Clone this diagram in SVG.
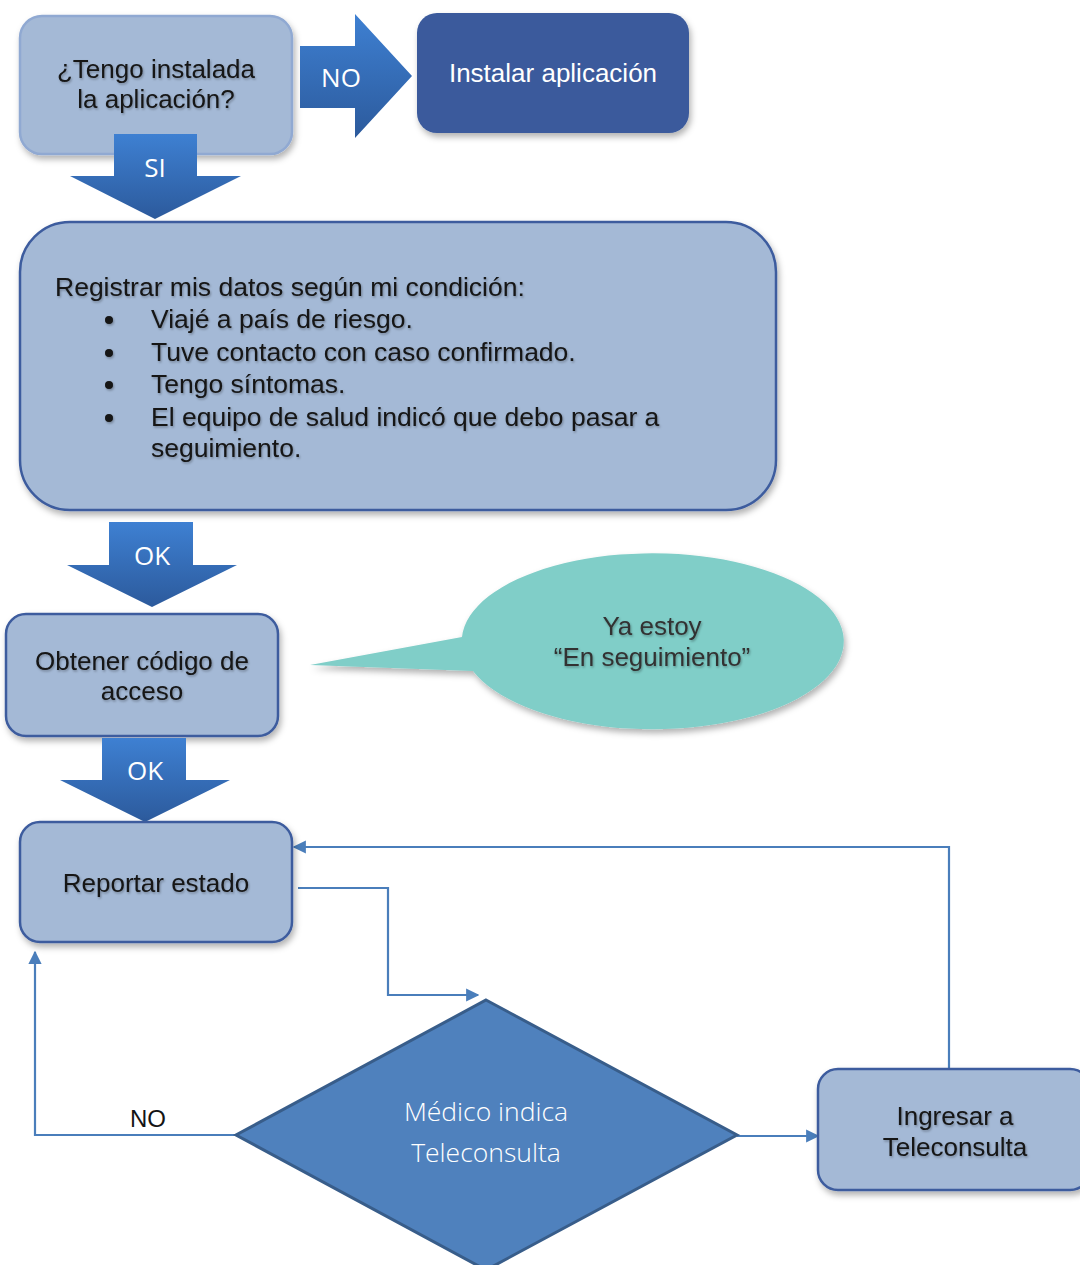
<svg xmlns="http://www.w3.org/2000/svg" width="1080" height="1265" viewBox="0 0 1080 1265">
<defs>
<style>
.box{fill:#a4b9d6;stroke:#3d5c9e;stroke-width:2.5}
.box1{fill:#a4b9d6;stroke:#90a9d2;stroke-width:2.5}
.dark{font-family:"Liberation Sans",Arial,sans-serif;font-size:26px;fill:#141414;text-anchor:middle}
.white{font-family:"Liberation Sans",Arial,sans-serif;font-size:26px;fill:#ffffff;text-anchor:middle}
.lbl{font-family:"Open Sans","Liberation Sans",sans-serif;font-size:26px;fill:#ffffff;text-anchor:middle}
.list{font-family:"Liberation Sans",Arial,sans-serif;font-size:26.5px;fill:#141414}
.conn{fill:none;stroke:#4a7ebb;stroke-width:2.2}
</style>
<linearGradient id="ga" x1="0" y1="0" x2="0" y2="1">
<stop offset="0" stop-color="#3e80d2"/>
<stop offset="1" stop-color="#2c5a9c"/>
</linearGradient>
<linearGradient id="gr" x1="0" y1="0" x2="0" y2="1">
<stop offset="0" stop-color="#3e80d2"/>
<stop offset="1" stop-color="#2c5a9c"/>
</linearGradient>
<filter id="sh" x="-10%" y="-10%" width="130%" height="130%">
<feDropShadow dx="2" dy="4" stdDeviation="3" flood-color="#000" flood-opacity="0.3"/>
</filter>
<filter id="ts" x="-5%" y="-20%" width="110%" height="150%">
<feDropShadow dx="1" dy="1.5" stdDeviation="1" flood-color="#000" flood-opacity="0.3"/>
</filter>
<marker id="ah" viewBox="0 0 10 10" refX="9" refY="5" markerWidth="6" markerHeight="6" orient="auto-start-reverse" markerUnits="strokeWidth">
<path d="M0,0 L10,5 L0,10 Z" fill="#4a7ebb"/>
</marker>
</defs>
<rect width="1080" height="1265" fill="#ffffff"/>

<g id="connectors">
<polyline class="conn" points="298,888 388,888 388,995 478,995" marker-end="url(#ah)"/>
<polyline class="conn" points="236,1135 35,1135 35,952" marker-end="url(#ah)"/>
<line class="conn" x1="737" y1="1136" x2="818" y2="1136" marker-end="url(#ah)"/>
<polyline class="conn" points="949,1069 949,847 294,847" marker-end="url(#ah)"/>
<text x="148" y="1127" style="font-family:'Liberation Sans',Arial,sans-serif;font-size:24px;fill:#141414;text-anchor:middle">NO</text>
</g>

<g id="n-tengo">
<rect class="box1" x="20" y="16" width="272" height="138" rx="22" filter="url(#sh)"/>
<text class="dark" x="156" y="78" filter="url(#ts)">¿Tengo instalada</text>
<text class="dark" x="156" y="108" filter="url(#ts)">la aplicación?</text>
</g>

<g id="a-no">
<path d="M300,46 H355 V14 L412,76 L355,138 V108 H300 Z" fill="url(#gr)"/>
<text class="lbl" x="341" y="87">NO</text>
</g>

<g id="n-instalar">
<rect x="417" y="13" width="272" height="120" rx="20" fill="#3a5a9c" filter="url(#sh)"/>
<text class="white" x="553" y="82">Instalar aplicación</text>
</g>

<g id="a-si">
<path d="M114,134 H197 V176 H241 L155,219 L70,176 H114 Z" fill="url(#ga)"/>
<text class="lbl" x="155" y="177">SI</text>
</g>

<g id="n-registrar">
<rect class="box" x="20" y="222" width="756" height="288" rx="50" filter="url(#sh)"/>
<g class="list" filter="url(#ts)">
<text x="55" y="296">Registrar mis datos según mi condición:</text>
<circle cx="109" cy="320" r="4" fill="#141414"/>
<circle cx="109" cy="353" r="4" fill="#141414"/>
<circle cx="109" cy="385" r="4" fill="#141414"/>
<circle cx="109" cy="418" r="4" fill="#141414"/>
<text x="151" y="328">Viajé a país de riesgo.</text>
<text x="151" y="361">Tuve contacto con caso confirmado.</text>
<text x="151" y="393">Tengo síntomas.</text>
<text x="151" y="426">El equipo de salud indicó que debo pasar a</text>
<text x="151" y="457">seguimiento.</text>
</g>
</g>

<g id="a-ok1">
<path d="M109,522 H193 V565 H237 L152,607 L67,565 H109 Z" fill="url(#ga)"/>
<text class="lbl" x="152" y="565">OK</text>
</g>

<g id="n-obtener">
<rect class="box" x="6" y="614" width="272" height="122" rx="20" filter="url(#sh)"/>
<text class="dark" x="142" y="670" filter="url(#ts)">Obtener código de</text>
<text class="dark" x="142" y="700" filter="url(#ts)">acceso</text>
</g>

<g id="n-callout">
<path d="M462,637 A191,88 0 1 1 473,671 L310,665 Z" fill="#80cec8" filter="url(#sh)"/>
<text x="652" y="635" style="font-family:'Liberation Sans',Arial,sans-serif;font-size:26px;fill:#333333;text-anchor:middle" filter="url(#ts)">Ya estoy</text>
<text x="652" y="666" style="font-family:'Liberation Sans',Arial,sans-serif;font-size:26px;fill:#333333;text-anchor:middle" filter="url(#ts)">“En seguimiento”</text>
</g>

<g id="a-ok2">
<path d="M102,738 H186 V780 H230 L145,822 L60,780 H102 Z" fill="url(#ga)"/>
<text class="lbl" x="145" y="780">OK</text>
</g>

<g id="n-reportar">
<rect class="box" x="20" y="822" width="272" height="120" rx="20" filter="url(#sh)"/>
<text class="dark" x="156" y="892" filter="url(#ts)">Reportar estado</text>
</g>

<g id="n-medico">
<path d="M486,1000 L737,1135 L486,1270 L236,1135 Z" fill="#4f81bd" stroke="#385d8a" stroke-width="3"/>
<text class="white" x="486" y="1121" style="font-family:'Open Sans','Liberation Sans',sans-serif;font-weight:300;font-size:26.5px">Médico indica</text>
<text class="white" x="486" y="1162" style="font-family:'Open Sans','Liberation Sans',sans-serif;font-weight:300;font-size:26.5px">Teleconsulta</text>
</g>

<g id="n-ingresar">
<rect class="box" x="818" y="1069" width="272" height="121" rx="20" filter="url(#sh)"/>
<text class="dark" x="955" y="1125" filter="url(#ts)">Ingresar a</text>
<text class="dark" x="955" y="1156" filter="url(#ts)">Teleconsulta</text>
</g>
</svg>
